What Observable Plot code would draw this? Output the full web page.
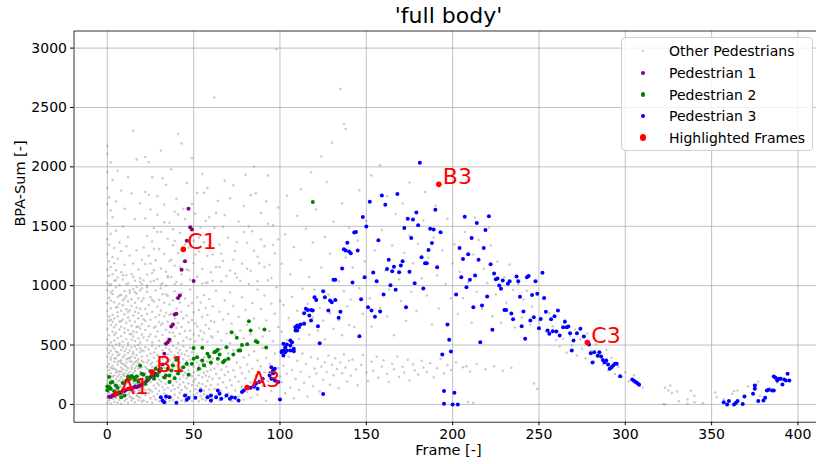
<!DOCTYPE html>
<html><head><meta charset="utf-8">
<script src="https://cdn.jsdelivr.net/npm/d3@7"></script>
<script src="https://cdn.jsdelivr.net/npm/@observablehq/plot@0.6"></script>
<style>
body{margin:0;background:#fff;font-family:"DejaVu Sans",sans-serif;}
#wrap{position:relative;width:816px;height:464px;overflow:hidden;background:#fff;}
#chart{width:824px;height:464px;}
#chart svg{max-width:none !important;width:824px;height:464px;display:block;}
#legend{position:absolute;left:621px;top:37px;width:192px;height:114px;box-sizing:border-box;border:1px solid #cfcfcf;border-radius:4px;background:rgba(255,255,255,0.8);font-size:14px;color:#000;}
.row{position:absolute;left:0;height:20px;width:100%;}
.mk{position:absolute;border-radius:50%;}
.lb{position:absolute;left:47px;top:0;line-height:20px;white-space:nowrap;}
#chart svg g[aria-label="x-axis tick label"], #chart svg g[aria-label="y-axis tick label"]{font-size:14px;}
</style></head>
<body><div id="wrap"><div id="chart"></div><div id="legend"></div></div>
<script>
// ---- data ----
const xTicks = [0,50,100,150,200,250,300,350,400];
const yTicks = [0,500,1000,1500,2000,2500,3000];

const hlLabels = ["A1","B1","C1","A3","B3","C3"];
const hlFrames = [5,26,44,81,192,278];
const hlValues = [90,272,1305,143,1853,521];

const ped1 = [[1,65],[2,62],[3,78],[4,72],[6,90],[7,103],[8,98],[9,118],[10,112],[11,124],[12,130],[13,135],[14,128],[15,140],[16,150],[17,145],[18,152],[19,160],[20,168],[21,175],[22,185],[23,200],[24,215],[25,230],[27,240],[28,258],[30,290],[32,336],[33,426],[34,510],[35,524],[36,544],[37,656],[38,673],[39,757],[40,763],[41,897],[42,917],[43,1133],[45,1205],[46,1379],[47,1648],[48,1491],[49,1472],[50,1040]];

const ped2 = [[0,150],[0,120],[1,230],[1,146],[2,182],[2,132],[3,188],[4,110],[5,160],[6,140],[7,95],[8,61],[9,180],[10,76],[11,200],[12,232],[13,215],[14,240],[15,228],[16,205],[17,235],[18,190],[19,328],[20,258],[21,250],[22,175],[23,225],[24,215],[25,280],[26,250],[27,216],[28,300],[29,244],[30,272],[31,300],[33,226],[34,244],[35,300],[36,188],[36,244],[37,286],[38,328],[39,220],[40,376],[41,260],[42,286],[44,314],[46,342],[47,250],[49,342],[50,384],[50,474],[52,398],[53,300],[55,370],[55,477],[56,330],[58,426],[59,404],[60,352],[62,440],[63,448],[64,384],[64,460],[65,420],[67,356],[68,370],[69,482],[70,384],[72,608],[73,420],[75,561],[76,454],[77,454],[78,500],[81,507],[82,700],[83,622],[86,532],[87,524],[91,631],[92,480],[119,1705]];

const ped3 = [[31,61],[32,34],[33,19],[34,67],[36,61],[40,14],[45,76],[46,39],[47,53],[51,56],[54,118],[58,61],[60,34],[60,76],[63,61],[64,118],[65,90],[66,48],[69,76],[71,48],[72,61],[74,56],[76,34],[78,104],[79,118],[83,140],[85,151],[86,174],[87,132],[88,188],[90,216],[94,244],[95,314],[96,286],[95,216],[97,202],[99,188],[100,42],[97,300],[96,263],
[101,440],[101,448],[102,454],[102,510],[102,412],[103,482],[103,440],[104,505],[104,454],[106,496],[106,538],[106,454],[107,524],[108,468],[108,448],[109,622],[109,650],[110,664],[110,622],[111,650],[112,673],[114,679],[114,768],[115,805],[116,796],[117,749],[118,796],[118,707],[119,791],[120,902],[121,880],[122,659],[123,516],[125,953],[125,87],[126,902],[128,791],[129,875],[130,860],[131,1049],[132,880],[132,1049],[134,729],[135,780],[136,1144],[137,1306],[138,1295],[139,1362],[140,1287],[141,1272],[142,1026],[143,1447],[144,1452],[145,1295],[146,574],[147,886],[148,1579],[149,1071],[150,1497],[151,818],[152,1707],[153,791],[154,1110],[155,738],[156,1037],[157,1382],[158,782],[159,1758],[160,925],[161,1682],[162,1141],[163,1219],[164,1003],[165,1121],[166,1160],[167,965],[168,1772],[169,1113],[170,1169],[171,1205],[172,1486],[173,818],[174,1564],[175,1118],[176,1402],[177,1556],[178,1020],[179,1615],[180,1508],[181,2035],[182,1239],[183,976],[184,1188],[185,1188],[186,1301],[187,1480],[188,1360],[189,1472],[190,1640],[191,1155],[193,1449],[194,420],[195,112],[195,6],[197,673],[198,544],[199,446],[200,0],[201,98],[202,925],[203,0],[204,1318],[205,1071],[206,1225],[207,1581],[208,987],[209,1264],[210,1049],[211,1402],[212,818],[213,1085],[214,1527],[215,1217],[216,524],[217,832],[218,1318],[219,1469],[220,908],[221,1585],[222,1180],[223,628],[224,1102],[225,1054],[226,1060],[227,1001],[228,973],[229,1043],[230,796],[231,796],[232,1015],[233,1037],[234,765],[235,717],[237,1077],[238,1037],[239,906],[240,659],[241,782],[242,553],[243,1071],[244,1082],[245,706],[246,922],[247,734],[248,1037],[249,931],[250,642],[251,720],[252,1108],[253,897],[254,780],[255,622],[256,595],[257,717],[258,617],[259,743],[260,614],[261,791],[262,580],[264,650],[265,695],[266,650],[267,656],[268,600],[269,454],[270,538],[272,600],[274,637],[276,572],[279,505],[280,431],[281,353],[282,440],[284,409],[285,440],[286,404],[287,375],[288,355],[289,370],[290,336],[291,300],[292,314],[293,328],[294,342],[295,342],[297,238],[304,210],[305,199],[306,188],[307,179],[308,166],
[357,19],[359,0],[360,28],[363,0],[364,11],[365,28],[368,3],[369,67],[374,90],[375,132],[375,160],[377,28],[380,34],[381,56],[382,118],[383,124],[385,118],[386,118],[386,235],[387,224],[388,202],[389,216],[390,216],[391,168],[392,210],[393,202],[394,258],[395,202]];

const others = [
[0,12],[0,58],[0,131],[0,177],[0,249],[0,318],[0,402],[0,466],[1,35],[1,92],[1,104],[1,226],[1,287],[1,341],[1,433],[1,498],[2,8],[2,71],[2,146],[2,203],[2,262],[2,377],[2,395],[2,452],[3,47],[3,63],[3,119],[3,188],[3,301],[3,326],[3,419],[3,487],[4,22],[4,99],[4,158],[4,171],[4,244],[4,357],[4,388],[4,471],[5,54],[5,81],[5,137],[5,215],[5,268],[5,292],[5,446],[5,505],[6,16],[6,113],[6,124],[6,193],[6,236],[6,334],[6,409],[6,438],[7,39],[7,76],[7,162],[7,251],[7,279],[7,365],[7,421],[7,493],[8,5],[8,97],[8,148],[8,185],[8,228],[8,311],[8,372],[8,459],[9,61],[9,87],[9,129],[9,207],[9,296],[9,343],[9,397],[9,482],[10,28],[10,69],[10,154],[10,239],[10,263],[10,329],[10,415],[10,447],[11,44],[11,118],[11,176],[11,198],[11,285],[11,351],[11,378],[11,468],[12,11],[12,83],[12,141],[12,222],[12,257],[12,304],[12,433],[12,496],[13,67],[13,102],[13,165],[13,211],[13,273],[13,362],[13,389],[13,455],[14,31],[14,56],[14,127],[14,246],[14,298],[14,317],[14,404],[14,479],[15,49],[15,95],[15,183],[15,201],[15,267],[15,338],[15,426],[15,441],[16,19],[16,108],[16,139],[16,229],[16,281],[16,355],[16,392],[16,488],[17,72],[17,88],[17,171],[17,214],[17,243],[17,323],[17,417],[17,462],[18,36],[18,64],[18,152],[18,237],[18,302],[18,349],[18,381],[18,501],[19,58],[19,116],[19,133],[19,194],[19,276],[19,311],[19,439],[19,472],[20,25],[20,91],[20,168],[20,219],[20,254],[20,367],[20,403],[20,457],
[0,203],[1,158],[2,311],[3,236],[4,116],[5,387],[6,276],[7,203],[8,348],[9,252],[10,193],[11,319],[12,186],[13,241],[14,362],[15,122],[16,304],[17,366],[18,198],[19,251],[20,312],[21,262],[22,201],[23,353],[24,224],[25,119],[26,317],[27,273],[28,209],[29,324],[30,161],[2,236],[4,302],[6,358],[8,277],[10,126],[12,389],[14,209],[16,172],[18,118],
[0,547],[0,634],[0,789],[0,852],[0,961],[1,583],[1,706],[1,741],[1,898],[2,521],[2,668],[2,809],[2,874],[2,943],[3,612],[3,697],[3,756],[3,929],[4,538],[4,585],[4,723],[4,861],[5,602],[5,671],[5,814],[5,987],[6,559],[6,742],[6,776],[6,905],[7,516],[7,631],[7,698],[7,847],[8,574],[8,653],[8,788],[8,921],[9,529],[9,716],[9,836],[9,878],[10,606],[10,641],[10,759],[10,954],[11,551],[11,688],[11,802],[11,913],[12,518],[12,627],[12,731],[12,869],[13,592],[13,707],[13,793],[13,941],[14,544],[14,663],[14,828],[14,886],[15,571],[15,614],[15,749],[15,972],[16,533],[16,696],[16,781],[16,857],[17,608],[17,652],[17,817],[17,934],[18,556],[18,724],[18,769],[18,893],[19,521],[19,639],[19,805],[19,962],[20,589],[20,677],[20,746],[20,871],
[1,1003],[3,958],[5,1046],[7,917],[9,1087],[11,1009],[13,961],[15,1074],[17,989],[19,1031],[2,712],[4,649],[6,823],[8,701],[10,893],[12,779],[14,591],[16,947],[18,656],[20,978],[22,702],[24,569],[26,879],[28,655],[30,752],[32,681],[34,927],[36,753],[38,604],[40,897],[23,987],[27,1041],[31,1008],[35,1066],[39,1012],
[0,1024],[0,1137],[0,1268],[0,1391],[0,1522],[1,1083],[1,1205],[1,1344],[2,1012],[2,1158],[2,1437],[3,1096],[3,1241],[3,1575],[4,1041],[4,1188],[4,1317],[5,1129],[5,1462],[6,1068],[6,1226],[7,1004],[7,1363],[8,1112],[8,1289],[9,1052],[9,1498],[10,1176],[11,1087],[11,1332],[12,1021],[12,1410],[13,1254],[14,1098],[15,1187],[16,1041],[16,1560],[17,1297],[18,1135],[19,1062],[20,1219],
[0,1689],[0,1823],[0,1957],[0,2110],[0,2175],[1,1742],[2,1634],[2,2038],[3,1890],[5,1711],[6,1968],[8,1802],[10,1648],[12,1914],[14,1776],[15,2305],[17,2062],[19,1693],
[21,33],[21,141],[21,212],[21,356],[21,447],[22,78],[22,119],[22,264],[22,318],[22,482],[23,21],[23,166],[23,237],[23,301],[23,409],[24,95],[24,128],[24,289],[24,372],[24,463],[25,52],[25,187],[25,241],[25,338],[25,426],[26,14],[26,106],[26,273],[26,351],[26,494],[27,69],[27,158],[27,226],[27,392],[27,438],[28,41],[28,133],[28,298],[28,317],[28,471],[29,87],[29,179],[29,252],[29,364],[29,415],[30,26],[30,112],[30,208],[30,343],[30,489],[31,63],[31,194],[31,277],[31,329],[31,402],[32,18],[32,147],[32,231],[32,384],[32,456],[33,92],[33,124],[33,268],[33,306],[33,431],[34,47],[34,171],[34,219],[34,359],[34,477],[35,75],[35,138],[35,286],[35,341],[35,418],[36,29],[36,183],[36,247],[36,372],[36,463],[37,61],[37,116],[37,203],[37,331],[37,444],[38,38],[38,159],[38,294],[38,348],[38,492],[39,84],[39,127],[39,236],[39,367],[39,411],[40,16],[40,191],[40,258],[40,322],[40,473],[41,57],[41,142],[41,281],[41,389],[41,436],[42,99],[42,168],[42,214],[42,353],[42,459],[43,34],[43,121],[43,297],[43,314],[43,428],[44,72],[44,186],[44,243],[44,381],[44,487],[45,23],[45,149],[45,266],[45,337],[45,419],[46,88],[46,134],[46,221],[46,363],[46,452],[47,45],[47,177],[47,289],[47,328],[47,406],[48,66],[48,109],[48,252],[48,374],[48,478],[49,31],[49,163],[49,238],[49,346],[49,439],[50,79],[50,196],[50,271],[50,318],[50,465],[51,52],[51,128],[51,214],[51,391],[52,94],[52,157],[52,283],[52,352],[53,27],[53,181],[53,246],[53,327],[54,68],[54,139],[54,298],[54,371],[55,43],[55,172],[55,229],[55,344],[56,86],[56,118],[56,267],[56,398],[57,36],[57,153],[57,241],[57,316],[58,74],[58,197],[58,279],[58,362],[59,58],[59,126],[59,234],[59,387],[60,21],[60,164],[60,292],[60,339],
[21,563],[21,718],[21,893],[22,627],[22,804],[23,541],[23,762],[23,948],[24,659],[24,837],[25,588],[25,713],[25,902],[26,522],[26,781],[27,646],[27,867],[28,571],[28,734],[28,959],[29,613],[29,822],[30,537],[30,694],[30,881],[31,668],[31,791],[32,584],[32,927],[33,512],[33,743],[33,856],[34,629],[34,772],[35,556],[35,698],[35,914],[36,607],[36,841],[37,529],[37,763],[38,681],[38,877],[39,574],[39,724],[39,952],[40,643],[40,808],[41,518],[41,687],[42,596],[42,859],[43,652],[43,781],[43,938],[44,537],[44,726],[45,618],[45,892],[46,563],[46,749],[47,692],[47,831],[48,548],[48,623],[48,967],[49,711],[49,854],[50,589],[50,776],[51,532],[51,681],[52,657],[52,903],[53,578],[53,794],[54,621],[54,858],[55,546],[55,737],[56,603],[56,921],[57,669],[57,812],[58,527],[58,752],[59,638],[59,886],[60,574],[60,703],
[21,1046],[21,1322],[22,1183],[22,1567],[23,1094],[23,1418],[24,1251],[25,1033],[25,1642],[26,1372],[27,1129],[27,1486],[28,1214],[29,1057],[29,1597],[30,1308],[31,1145],[31,1451],[32,1019],[33,1266],[33,1683],[34,1118],[35,1394],[36,1207],[36,1529],[37,1072],[38,1341],[39,1168],[39,1622],[40,1031],[41,1275],[42,1444],[43,1096],[44,1203],[45,1558],[46,1137],[47,1319],[48,1049],[49,1421],[50,1188],[51,1606],[52,1074],[53,1287],[54,1489],[55,1141],[56,1366],[57,1023],[58,1249],[59,1575],[60,1112],
[23,1002],[25,1187],[27,1311],[29,1452],[31,978],[33,1533],[35,1082],[37,1219],[39,1376],[41,1598],[43,1012],[45,1346],[47,1129],[49,1687],[51,1263],[53,1405],[55,1019],[57,1544],[59,1338],[61,1042],[63,1611],[65,1157],[67,1493],[69,1082],[71,1735],[73,1219],[75,1368],[77,1041],[79,1452],[81,1143],[83,1762],[85,1294],[87,1036],[89,1389],[91,1158],[93,1521],[95,1064],[97,1273],[99,1657],[24,1765],[32,1904],[44,1648],[56,1782],[68,1883],[80,1933],[92,1711],[20,1012],[26,1107],[34,1001],[38,1474],[42,1156],[50,1378],[58,1027],[66,1268],[74,1102],[82,1497],[88,1189],[96,1342],
[22,1788],[22,2083],[24,2041],[26,1913],[29,1752],[31,2138],[34,1847],[37,1979],[40,1731],[41,2276],[43,2196],[46,1864],[49,2072],[52,1779],[55,1941],[58,1822],[62,2585],
[61,46],[61,214],[61,387],[62,129],[62,301],[63,72],[63,256],[63,442],[64,168],[64,339],[65,33],[65,221],[66,112],[66,294],[66,467],[67,187],[67,361],[68,58],[68,248],[69,142],[69,318],[70,91],[70,273],[70,431],[71,203],[71,379],[72,26],[72,162],[73,287],[73,456],[74,118],[74,234],[75,352],[76,67],[76,193],[77,311],[77,478],[78,148],[78,262],[79,39],[79,395],[80,221],[81,104],[81,336],[82,278],[82,417],[83,57],[83,186],[84,301],[85,134],[85,448],[86,246],[87,82],[87,369],[88,207],[89,322],[90,157],[90,474],[91,268],[92,31],[92,391],[93,196],[94,341],[95,113],[96,254],[97,428],[98,177],[99,306],[100,238],
[61,563],[61,827],[62,694],[63,956],[64,612],[65,781],[66,538],[66,1034],[67,715],[68,874],[69,598],[70,762],[71,517],[71,943],[72,681],[73,829],[74,587],[75,1068],[76,738],[77,623],[78,902],[79,554],[80,796],[81,671],[82,1013],[83,591],[84,853],[85,724],[86,547],[87,968],[88,642],[89,805],[90,572],[91,917],[92,706],[93,1046],[94,618],[95,849],[96,531],[97,764],[98,987],[99,652],[100,873],
[61,1262],[62,1488],[63,1156],[64,1713],[65,1347],[67,1209],[68,1592],[70,1403],[71,1128],[73,1846],[74,1291],[76,1537],[78,1184],[79,1671],[81,1362],[83,1125],[84,1459],[85,2004],[86,1778],[87,1243],[89,1614],[91,1332],[93,1927],[94,1176],[96,1508],[98,2991],[99,1389],
[101,187],[102,326],[103,94],[104,258],[105,401],[106,143],[107,289],[108,52],[109,214],[110,367],[111,121],[112,276],[113,428],[114,182],[115,341],[116,67],[117,234],[118,398],[119,156],[120,302],[121,261],[122,384],[123,108],[124,319],[125,207],[126,356],[127,273],[128,412],[129,166],[130,333],[131,245],[132,389],[133,298],[134,137],[135,352],[136,263],[137,421],[138,311],[139,194],[140,368],
[101,612],[102,838],[104,543],[105,727],[107,905],[108,661],[110,788],[111,551],[113,973],[114,694],[116,847],[117,589],[119,731],[120,968],[122,622],[123,812],[125,704],[126,548],[128,926],[129,767],[131,638],[133,873],[134,709],[136,582],[137,952],[139,826],[140,671],
[101,1184],[103,1432],[106,1097],[108,1326],[110,1589],[112,1215],[115,1478],[117,1073],[119,1364],[121,1642],[124,1152],[126,1411],[129,1268],[131,1537],[134,1036],[136,1694],[138,1237],[140,1488],
[104,1756],[112,1812],[118,1954],[124,2087],[127,1873],[130,2203],[135,2655],[137,2360],[138,2318],
[141,241],[142,378],[144,296],[145,162],[147,334],[148,417],[150,268],[151,197],[153,359],[154,283],[156,401],[157,224],[159,318],[160,372],[162,256],[163,189],[165,342],[166,296],[168,403],[169,231],[171,317],[172,268],[174,376],[175,202],[177,339],[178,288],[180,251],[182,368],[183,311],[185,274],[187,346],[189,229],[191,305],[193,382],[195,262],[197,331],[199,289],[202,356],[206,312],[208,322],[210,278],[214,341],[219,296],[224,322],[229,284],[234,308],[209,20],[212,15],
[141,884],[142,1153],[143,652],[145,1381],[146,978],[148,764],[149,1206],[150,1544],[152,893],[153,657],[155,1297],[156,1042],[158,812],[159,1468],[161,1127],[162,741],[163,968],[165,1339],[166,582],[167,1603],[169,1054],[170,871],[171,1691],[172,1276],[173,702],[175,1421],[176,948],[177,1188],[179,786],[180,1352],[182,1063],[183,1549],[185,917],[186,1234],[188,673],[189,1406],[190,1672],[191,1085],[192,807],[194,1297],[196,1012],[197,1563],[199,894],[200,1186],
[146,1804],[153,1927],[158,2013],[162,1752],[175,1868],[184,1789],
[201,1348],[203,762],[204,1116],[206,894],[207,1452],[209,1029],[211,687],[212,1263],[213,1571],[214,948],[215,1384],[217,803],[218,1142],[220,1021],[221,1489],[222,1337],[223,742],[225,926],[226,1204],[228,687],[230,1068],[231,856],[233,1177],[235,963],[236,648],[238,1012],[240,732],[241,884],[243,957],[245,671],[246,823],[247,176],[248,1039],[249,132],[250,702],[252,889],[254,613],[256,768],[258,659],[260,542],
[261,618],[262,487],[264,553],[265,712],[266,436],[268,579],[269,498],[271,631],[272,412],[274,547],[275,468],[277,389],[278,596],[280,452],[282,361],[283,507],[285,418],[287,338],[289,461],[290,287],[292,392],[294,256],[296,318],[298,229],[300,271],[302,194],[305,243],[308,178],[310,142],
[322,2],[323,140],[323,0],[325,118],[326,160],[327,96],[330,108],[331,27],[336,6],[336,41],[338,118],[340,19],[340,72],[345,9],[352,100],[353,61],[357,46],[362,90],[363,112],[365,118],[371,152],[376,168],[377,190],[378,74],[384,139],[388,183]
];

const legendNames = ["Other Pedestrians","Pedestrian 1","Pedestrian 2","Pedestrian 3","Highlighted Frames"];
const legendColors = ["#bdbdbd","purple","green","blue","red"];

// ---- chart ----
const highlights = hlLabels.map((l,i)=>({label:l, frame:hlFrames[i], value:hlValues[i]}));
const px = d=>d[0], py = d=>d[1];
const fmt = d=>String(d);

const chart = Plot.plot({
  width: 824, height: 464,
  marginLeft: 73.5, marginRight: 1.5, marginTop: 30.5, marginBottom: 42.3,
  x: {domain: [-19.3, 414.5], label: null},
  y: {domain: [-149.7, 3144], label: null},
  style: {fontFamily: "DejaVu Sans", fontSize: "14px", color: "black", background: "white"},
  marks: [
    Plot.gridX(xTicks, {stroke: "#b0b0b0", strokeOpacity: 1, strokeWidth: 0.8}),
    Plot.gridY(yTicks, {stroke: "#b0b0b0", strokeOpacity: 1, strokeWidth: 0.8}),
    Plot.dot(others, {x: px, y: py, r: 1.25, fill: "gray", fillOpacity: 0.42}),
    Plot.dot(ped1, {x: px, y: py, r: 2, fill: "purple"}),
    Plot.dot(ped2, {x: px, y: py, r: 2, fill: "green"}),
    Plot.dot(ped3, {x: px, y: py, r: 2, fill: "blue"}),
    Plot.dot(highlights, {x: "frame", y: "value", r: 2.8, fill: "red"}),
    Plot.text(highlights, {x: "frame", y: "value", text: "label", fill: "red", fontSize: 22, textAnchor: "start", lineAnchor: "middle", dx: 4, dy: -7}),
    Plot.frame({stroke: "black", strokeWidth: 0.8}),
    Plot.axisX(xTicks, {tickSize: 3.5, tickPadding: 3.5, fontSize: 14, tickFormat: fmt, label: null}),
    Plot.axisY(yTicks, {tickSize: 3.5, tickPadding: 3.5, fontSize: 14, tickFormat: fmt, label: null}),
    Plot.text(["Frame [-]"], {text: d=>d, frameAnchor: "bottom", lineAnchor: "middle", dy: 28.5, fontSize: 14.5}),
    Plot.text(["BPA-Sum [-]"], {text: d=>d, frameAnchor: "left", lineAnchor: "middle", dx: -53.5, rotate: -90, fontSize: 14.5}),
    Plot.text(["'full body'"], {text: d=>d, frameAnchor: "top", lineAnchor: "middle", dy: -15, fontSize: 22})
  ]
});
document.getElementById("chart").appendChild(chart);

// ---- legend ----
const sizes = [2.4, 4.5, 4.5, 4.5, 6.5];
const rowsY = [13, 35, 56.5, 78, 99.5];
const lg = document.getElementById("legend");
legendNames.forEach((name,i)=>{
  const row = document.createElement("div");
  row.className = "row";
  row.style.top = (rowsY[i]-10) + "px";
  const m = document.createElement("div");
  m.className = "mk";
  m.style.width = sizes[i] + "px"; m.style.height = sizes[i] + "px";
  m.style.left = (21 - sizes[i]/2) + "px"; m.style.top = (10 - sizes[i]/2) + "px";
  m.style.background = legendColors[i];
  const t = document.createElement("div");
  t.className = "lb"; t.textContent = name;
  row.appendChild(m); row.appendChild(t);
  lg.appendChild(row);
});
</script></body></html>
